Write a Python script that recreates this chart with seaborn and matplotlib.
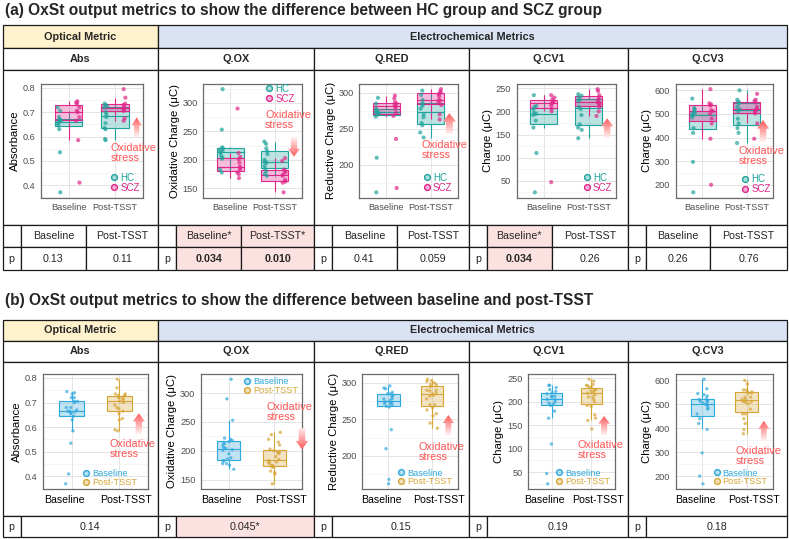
import numpy as np
import pandas as pd
import seaborn as sns
import matplotlib
matplotlib.use('Agg')
from matplotlib import pyplot as plt
from matplotlib.patches import Rectangle, Polygon
from matplotlib.lines import Line2D
from matplotlib.colors import LinearSegmentedColormap, to_rgba
from matplotlib.ticker import MultipleLocator, AutoMinorLocator
from matplotlib.transforms import ScaledTranslation

# ---- data (one list per group / session) ----
times = ['Baseline', 'Post-TSST']
groups = ['HC', 'SCZ']
metrics = ['Abs', 'Q.OX', 'Q.RED', 'Q.CV1', 'Q.CV3']
ylabels = ['Absorbance', 'Oxidative Charge (μC)', 'Reductive Charge (μC)',
           'Charge (μC)', 'Charge (μC)']

abs_hc_base = [0.72, 0.705, 0.68, 0.67, 0.665, 0.662, 0.66, 0.655, 0.645, 0.63, 0.535, 0.37]
abs_scz_base = [0.745, 0.74, 0.735, 0.72, 0.705, 0.70, 0.68, 0.665, 0.585, 0.41]
abs_hc_post = [0.735, 0.73, 0.725, 0.72, 0.70, 0.69, 0.68, 0.655, 0.635, 0.63, 0.59, 0.585]
abs_scz_post = [0.795, 0.76, 0.735, 0.73, 0.72, 0.715, 0.71, 0.705, 0.675, 0.665]

qox_hc_base = [324, 253, 222, 220, 218, 216, 213, 208, 204, 202, 183, 178]
qox_scz_base = [290, 212, 205, 201, 195, 188, 186, 183, 178, 175, 168]
qox_hc_post = [232, 228, 220, 215, 210, 200, 197, 195, 190, 185, 180, 175, 172]
qox_scz_post = [203, 198, 183, 181, 178, 174, 172, 165, 162, 160, 143]

qred_hc_base = [293, 285, 278, 276, 274, 273, 272, 270, 267, 210, 162]
qred_scz_base = [296, 292, 287, 285, 283, 281, 278, 272, 268, 236, 168]
qred_hc_post = [303, 297, 290, 285, 282, 278, 270, 266, 258, 255, 245, 238]
qred_scz_post = [305, 302, 300, 298, 295, 290, 289, 286, 283, 270, 263]

qcv1_hc_base = [235, 212, 210, 205, 197, 195, 192, 180, 165, 110, 25]
qcv1_scz_base = [235, 230, 226, 222, 219, 217, 212, 205, 200, 47]
qcv1_hc_post = [237, 234, 230, 226, 222, 210, 205, 192, 172, 165, 160, 142]
qcv1_scz_post = [248, 244, 235, 230, 225, 220, 218, 215, 210, 200, 190]

qcv3_hc_base = [565, 525, 520, 512, 505, 500, 495, 485, 440, 420, 297, 168]
qcv3_scz_base = [605, 545, 540, 535, 515, 512, 500, 480, 460, 395, 200]
qcv3_hc_post = [600, 560, 552, 545, 530, 520, 510, 480, 460, 440, 420, 377]
qcv3_scz_post = [585, 560, 555, 548, 530, 520, 512, 508, 502, 460, 395]

# p-values: (a) HC vs SCZ at each session, (b) baseline vs post-TSST
p_group = [['0.13', '0.11'], ['0.034', '0.010'], ['0.41', '0.059'],
           ['0.034', '0.26'], ['0.26', '0.76']]
p_time = ['0.14', '0.045', '0.15', '0.19', '0.18']

HC_COL, SCZ_COL = '#1FA39C', '#E0268A'
BASE_COL, POST_COL = '#2FA8DD', '#D6A535'
RED = '#FF5454'
pal_a = {'HC': HC_COL, 'SCZ': SCZ_COL}
pal_b = {'Baseline': BASE_COL, 'Post-TSST': POST_COL}


def long_frame(hc_base, scz_base, hc_post, scz_post):
    parts = []
    for t, g, vals in [('Baseline', 'HC', hc_base), ('Baseline', 'SCZ', scz_base),
                       ('Post-TSST', 'HC', hc_post), ('Post-TSST', 'SCZ', scz_post)]:
        parts.append(pd.DataFrame({'time': t, 'group': g, 'value': vals}))
    return pd.concat(parts, ignore_index=True)


frames = [long_frame(abs_hc_base, abs_scz_base, abs_hc_post, abs_scz_post),
          long_frame(qox_hc_base, qox_scz_base, qox_hc_post, qox_scz_post),
          long_frame(qred_hc_base, qred_scz_base, qred_hc_post, qred_scz_post),
          long_frame(qcv1_hc_base, qcv1_scz_base, qcv1_hc_post, qcv1_scz_post),
          long_frame(qcv3_hc_base, qcv3_scz_base, qcv3_hc_post, qcv3_scz_post)]
ysteps = [0.1, 50, 50, 50, 100]

sns.set_style('whitegrid')
plt.rcParams['font.family'] = ['Liberation Sans', 'DejaVu Sans']

W, H = 789, 539
fig = plt.figure(figsize=(W / 100, H / 100), dpi=100)


def fx(x):
    return x / W


def fy(y):
    return 1 - y / H


def cell(x0, y0, x1, y1, fill='white'):
    fig.add_artist(Rectangle((fx(x0), fy(y1)), fx(x1) - fx(x0), fy(y0) - fy(y1),
                             transform=fig.transFigure, facecolor=fill,
                             edgecolor='#1a1a1a', lw=0.9, zorder=-1))


def put(x, y, s, size=7.7, **kw):
    fig.text(fx(x), fy(y), s, ha=kw.pop('ha', 'center'), va=kw.pop('va', 'center'),
             fontsize=size, **kw)


def add_axes_px(x0, y0, x1, y1):
    return fig.add_axes([fx(x0), fy(y1), fx(x1) - fx(x0), fy(y0) - fy(y1)])


cmap_stress = LinearSegmentedColormap.from_list('stress', ['#FFF2F2', '#FF5C5C'])


def stress_arrow(x0, y0, x1, y1, up=True):
    a = add_axes_px(x0, y0, x1, y1)
    a.set_axis_off()
    shape = [(0.5, 1), (0, 0.6), (0.24, 0.6), (0.24, 0), (0.76, 0), (0.76, 0.6), (1, 0.6)]
    ramp = np.linspace(0, 1, 64).reshape(-1, 1)
    if not up:
        shape = [(x, 1 - y) for x, y in shape]
        ramp = ramp[::-1]
    im = a.imshow(ramp, cmap=cmap_stress, extent=(0, 1, 0, 1), origin='lower', aspect='auto')
    poly = Polygon(shape, closed=True, transform=a.transData, fc='none', ec='none')
    a.add_patch(poly)
    im.set_clip_path(poly)
    a.set_xlim(0, 1)
    a.set_ylim(0, 1)


def stress_text(x, y):
    fig.text(fx(x), fy(y), 'Oxidative\nstress', color=RED, fontsize=7.8,
             ha='left', va='top', linespacing=0.95)


def key(ax, cx, cy, labels, colors, size):
    handles = [Line2D([], [], ls='', marker='o', ms=4.2, mfc=to_rgba(c, 0.35), mec=c, mew=1.0)
               for c in colors]
    hl = 0.7
    ax.legend(handles, labels, loc='upper left',
              bbox_to_anchor=(fx(cx - hl * size * 1.389 / 2), fy(cy - 5.5)),
              bbox_transform=fig.transFigure, frameon=False, fontsize=size,
              handlelength=hl, handletextpad=0.3, borderpad=0, borderaxespad=0,
              labelspacing=0.0, labelcolor=colors)


def finish_axis(ax, df, ylabel, step, big_x):
    lo, hi = df['value'].min(), df['value'].max()
    pad = 0.05 * (hi - lo)
    ax.set_ylim(lo - pad, hi + pad)
    ax.set_xlim(-0.6, 1.6)
    ax.yaxis.set_major_locator(MultipleLocator(step))
    ax.yaxis.set_minor_locator(AutoMinorLocator(2))
    ax.grid(which='major', color='#E4E4E4', lw=0.7)
    ax.grid(which='minor', axis='y', color='#F2F2F2', lw=0.5)
    ax.set_axisbelow(True)
    ax.set_xlabel('')
    ax.set_ylabel(ylabel, fontsize=8.2, color='black', labelpad=2)
    ax.tick_params(axis='y', which='major', labelsize=6.6, colors='#4D4D4D',
                   length=2.5, width=0.6, pad=1.5)
    ax.tick_params(axis='y', which='minor', length=0)
    ax.tick_params(axis='x', labelsize=7.6 if big_x else 6.6,
                   labelcolor='black' if big_x else '#4D4D4D', color='#4D4D4D',
                   length=2.5, width=0.6, pad=1.5)
    for s in ax.spines.values():
        s.set_color('#6A6A6A')
        s.set_linewidth(0.9)
    if big_x:
        # the larger session labels sit a little apart from the boxes, as in the source
        for tick, dx in zip(ax.xaxis.get_major_ticks(), [-7, 7]):
            tick.label1.set_transform(tick.label1.get_transform()
                                      + ScaledTranslation(dx / 100, 0, fig.dpi_scale_trans))


# ---- table geometry (pixels) ----
cols = [2.7, 158.3, 314, 469, 628.3, 787]
mids = [86, 241.3, 396.7, 551.7, 710]
pw = 18
rows_a = [25, 48.3, 70, 225.3, 247.3, 269.7]
rows_b = [319.7, 340.7, 362, 516, 537.3]
PINK = '#FCE1E1'


def header_rows(r0, r1, r2):
    cell(cols[0], r0, cols[1], r1, fill='#FFF2CC')
    cell(cols[1], r0, cols[5], r1, fill='#DAE3F3')
    put((cols[0] + cols[1]) / 2, (r0 + r1) / 2, 'Optical Metric', size=7.8, fontweight='bold')
    put((cols[1] + cols[5]) / 2, (r0 + r1) / 2, 'Electrochemical Metrics', size=7.8,
        fontweight='bold')
    for i, m in enumerate(metrics):
        cell(cols[i], r1, cols[i + 1], r2)
        put((cols[i] + cols[i + 1]) / 2, (r1 + r2) / 2, m, size=7.8, fontweight='bold')


# (a)
put(5, 10, '(a) OxSt output metrics to show the difference between HC group and SCZ group',
    size=11.2, fontweight='bold', ha='left')
header_rows(rows_a[0], rows_a[1], rows_a[2])
for i in range(5):
    cell(cols[i], rows_a[2], cols[i + 1], rows_a[3])
    cell(cols[i], rows_a[3], cols[i] + pw, rows_a[4])
    cell(cols[i], rows_a[4], cols[i] + pw, rows_a[5])
    put(cols[i] + pw / 2, (rows_a[4] + rows_a[5]) / 2, 'p')
    spans = [(cols[i] + pw, mids[i]), (mids[i], cols[i + 1])]
    for j, (xa, xb) in enumerate(spans):
        sig = float(p_group[i][j]) < 0.05
        fill = PINK if sig else 'white'
        cell(xa, rows_a[3], xb, rows_a[4], fill=fill)
        cell(xa, rows_a[4], xb, rows_a[5], fill=fill)
        put((xa + xb) / 2, (rows_a[3] + rows_a[4]) / 2, times[j] + ('*' if sig else ''))
        put((xa + xb) / 2, (rows_a[4] + rows_a[5]) / 2, p_group[i][j],
            fontweight='bold' if sig else 'normal')

# (b)
put(5, 301, '(b) OxSt output metrics to show the difference between baseline and post-TSST',
    size=11.2, fontweight='bold', ha='left')
header_rows(rows_b[0], rows_b[1], rows_b[2])
for i in range(5):
    cell(cols[i], rows_b[2], cols[i + 1], rows_b[3])
    cell(cols[i], rows_b[3], cols[i] + pw, rows_b[4])
    put(cols[i] + pw / 2, (rows_b[3] + rows_b[4]) / 2, 'p')
    sig = float(p_time[i]) < 0.05
    cell(cols[i] + pw, rows_b[3], cols[i + 1], rows_b[4], fill=PINK if sig else 'white')
    put((cols[i] + pw + cols[i + 1]) / 2, (rows_b[3] + rows_b[4]) / 2,
        p_time[i] + ('*' if sig else ''))

# ---- plots ----
np.random.seed(7)
axes_a = [(40.7, 142.7), (203.3, 301.7), (359.3, 457.7), (516.7, 616), (675.7, 773.3)]
axes_b = [(43.3, 148), (201, 302), (362.3, 458), (528, 615), (675.7, 773.3)]

for i, df in enumerate(frames):
    ax = add_axes_px(axes_a[i][0], 84, axes_a[i][1], 197.5)
    for g in groups:
        n0 = len(ax.patches)
        sns.boxplot(data=df[df['group'] == g], x='time', y='value', hue='group',
                    order=times, hue_order=groups, palette=pal_a, linecolor=pal_a[g],
                    width=0.8, gap=0.25, linewidth=0.8, showfliers=False, showcaps=False,
                    legend=False, ax=ax)
        for p in ax.patches[n0:]:
            p.set_facecolor(to_rgba(pal_a[g], 0.3))
    sns.stripplot(data=df, x='time', y='value', hue='group', order=times, hue_order=groups,
                  palette=pal_a, dodge=True, jitter=0.08, size=3.0, alpha=0.7,
                  linewidth=0, legend=False, ax=ax)
    finish_axis(ax, df, ylabels[i], ysteps[i], big_x=False)

    ax = add_axes_px(axes_b[i][0], 374, axes_b[i][1], 489)
    for t in times:
        n0 = len(ax.patches)
        sns.boxplot(data=df[df['time'] == t], x='time', y='value', order=times,
                    color=pal_b[t], linecolor=pal_b[t], width=0.52, linewidth=0.8,
                    showfliers=False, showcaps=False, ax=ax)
        for p in ax.patches[n0:]:
            p.set_facecolor(to_rgba(pal_b[t], 0.3))
    sns.stripplot(data=df, x='time', y='value', hue='time', order=times, hue_order=times,
                  palette=pal_b, jitter=0.13, size=2.4, alpha=0.7, linewidth=0,
                  legend=False, ax=ax)
    finish_axis(ax, df, ylabels[i], ysteps[i], big_x=True)

# legends
leg_a = [(114, 178.3), (269.3, 89.3), (426.7, 178), (586.7, 178.3), (745, 180)]
leg_b = [(86, 474.3), (247.3, 382.7), (401, 474), (559.3, 474), (716.7, 474)]
for i in range(5):
    key(fig.axes[2 * i], leg_a[i][0], leg_a[i][1], groups, [HC_COL, SCZ_COL], 7)
    key(fig.axes[2 * i + 1], leg_b[i][0], leg_b[i][1], times, [BASE_COL, POST_COL], 6.6)

# oxidative-stress arrows and labels
arrows_a = [(131.7, 117.3, 141.7, 137.3, True), (288, 136.7, 300, 156.7, False),
            (442.7, 113.3, 456, 134, True), (601, 118.3, 613.3, 138.3, True),
            (756.7, 120, 769.3, 141.7, True)]
arrows_b = [(132.7, 413.3, 145, 434, True), (295.7, 428.3, 308.3, 449.3, False),
            (442.7, 415, 454, 435, True), (598.3, 416, 610, 435, True),
            (758.3, 420.7, 769.3, 441, True)]
for a in arrows_a + arrows_b:
    stress_arrow(*a)
for x, y in [(110.7, 143), (265, 110), (421.7, 140), (738.3, 146.5),
             (110, 439), (266.7, 402), (419, 442), (577.7, 440.5), (736, 446.5)]:
    stress_text(x, y)

fig.savefig('out.png', dpi=100)
